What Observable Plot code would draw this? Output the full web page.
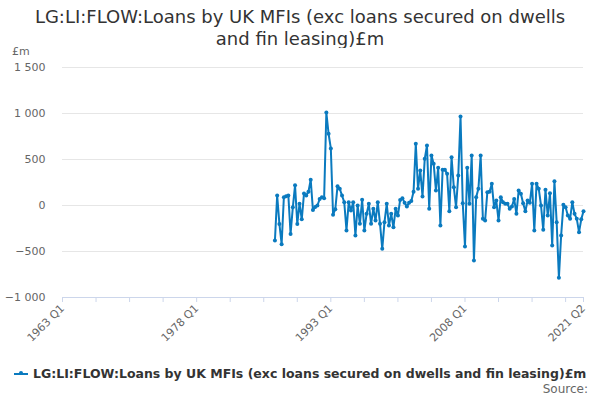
<!DOCTYPE html>
<html>
<head>
<meta charset="utf-8">
<script src="https://cdn.jsdelivr.net/npm/d3@7"></script>
<script src="https://cdn.jsdelivr.net/npm/@observablehq/plot@0.6"></script>
<style>
  html, body { margin: 0; padding: 0; background: #fff; }
  body { width: 600px; height: 400px; position: relative; overflow: hidden; font-family: "DejaVu Sans", sans-serif; }
  #title { position: absolute; left: 0; top: 6px; width: 600px; text-align: center; font-size: 18px; line-height: 22px; color: #333; }
  #chart { position: absolute; left: 0; top: 48px; }
  #unit { position: absolute; left: 12px; top: 45px; font-size: 11px; color: #666; z-index: 2; }
  #legend { position: absolute; left: 14px; top: 366px; font-size: 12.5px; font-weight: bold; color: #333; white-space: nowrap; display: flex; align-items: center; }
  #legend .sw { position: relative; width: 14px; height: 2px; background: #0a7abf; margin-right: 5px; }
  #legend .sw::after { content: ""; position: absolute; left: 5px; top: -2px; width: 4px; height: 4px; border-radius: 50%; background: #0a7abf; }
  #source { position: absolute; right: 12px; top: 382px; font-size: 12px; color: #666; }
</style>
</head>
<body>
<div id="title">LG:LI:FLOW:Loans by UK MFIs (exc loans secured on dwells<br>and fin leasing)£m</div>
<div id="chart"></div>
<div id="unit">£m</div>
<div id="legend"><span class="sw"></span>LG:LI:FLOW:Loans by UK MFIs (exc loans secured on dwells and fin leasing)£m</div>
<div id="source">Source:</div>
<script>
// Quarterly series, first value is 1986 Q4, last is 2021 Q2
const firstPeriod = "1986 Q4";
const values = [
  -380, 110, -200, -420, 90, 100, 110, -310, -20, 220,
  -200, 20, -150, 130, 110, 150, 280, -50, -15, 0,
  70, 90, 80, 1010, 780, 620, -100, -40, 210,
  181, 109, 36, -272, 36, -54, 36, -326, 0, -199,
  62, -272, -91, 18, -199, -36, -163, 36, -199, -471,
  -181, 18, -217, -91, -236, -36, -110, 60, 80, 30,
  -10, 30, 50, 150,
  670, 181, 380, 98, 507, 652, -36, 543, 453, 163,
  409, -217, 388, 388, 344, -62, 525, 199, -18, 326,
  967, 25, -446, 409,
  18, 543, -598, 91, 181, 543, -145, -163, 145, 150,
  236, -18, 54, -163, 91, 36, 18, 18, -36, -10,
  72, -91, 163, 127, 25, -62, 54,
  30, 236, -272, 236, 181, 0, -264, 170, -109, 134,
  -435, 264, -181, -786, -326, 7, -18, -109, -145, 36,
  -91, -145, -290, -150, -62
];
const axisStart = "1963 Q1";
const axisEnd = "2021 Q2";
const tickLabels = ["1963 Q1", "1978 Q1", "1993 Q1", "2008 Q1", "2021 Q2"];
const yTicks = [-1000, -500, 0, 500, 1000, 1500];
const seriesName = "LG:LI:FLOW:Loans by UK MFIs (exc loans secured on dwells and fin leasing)£m";

const qIndex = s => { const [y, q] = s.split(" Q"); return (+y - 1963) * 4 + (+q - 1); };
const qLabel = i => `${1963 + Math.floor(i / 4)} Q${(i % 4) + 1}`;
const start = qIndex(firstPeriod);
const data = values.map((v, k) => ({ q: start + k, period: qLabel(start + k), v }));
const x0 = qIndex(axisStart), x1 = qIndex(axisEnd);
const majorTicks = tickLabels.map(qIndex);
const minorTicks = d3.range(x0, x1, 15).concat([x1]);
const color = "#0a7abf";
const fmt = d => d3.format(",")(d).replace(/,/g, " ");

const chart = Plot.plot({
  width: 600,
  height: 300,
  marginLeft: 62,
  marginRight: 17,
  marginTop: 19,
  marginBottom: 51,
  style: { fontFamily: "DejaVu Sans, sans-serif", background: "#fff" },
  x: { type: "linear", domain: [x0, x1] },
  y: { domain: [-1000, 1500] },
  marks: [
    Plot.gridY(yTicks, { stroke: "#e6e6e6", strokeOpacity: 1 }),
    Plot.axisY(yTicks, { tickSize: 0, tickPadding: 17, tickFormat: fmt, fontSize: 11, fill: "#666", label: null }),
    Plot.ruleY([-1000], { stroke: "#ccd6eb" }),
    Plot.axisX(minorTicks, { tickSize: 5, stroke: "#ccd6eb", tickFormat: () => "", label: null }),
    Plot.axisX(majorTicks, { tickSize: 0, tickPadding: 9, tickRotate: -45, tickFormat: qLabel, fontSize: 11, fill: "#666", label: null }),
    Plot.lineY(data, { x: "q", y: "v", stroke: color, strokeWidth: 2 }),
    Plot.dot(data, { x: "q", y: "v", r: 2, fill: color, stroke: "none" })
  ]
});
document.getElementById("chart").appendChild(chart);
</script>
</body>
</html>
